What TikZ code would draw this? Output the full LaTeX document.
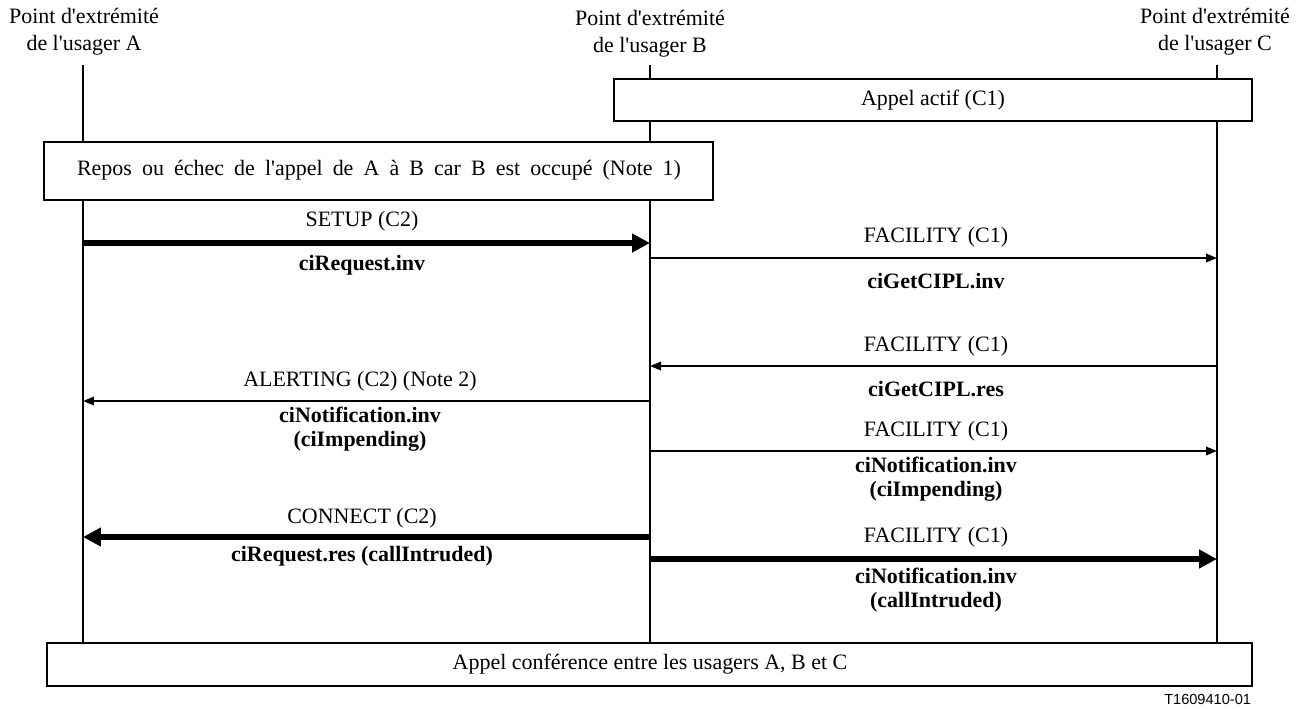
\documentclass[tikz,border=0pt]{standalone}
\usepackage{fontspec}
\setmainfont{Liberation Serif}[Ligatures=TeXOff]
\newfontfamily\tagfont{Liberation Sans}
\usetikzlibrary{arrows.meta}

\begin{document}
\begin{tikzpicture}[x=0.02cm,y=-0.02cm,
  every node/.style={inner sep=0pt, outer sep=0pt},
  txt/.style={font=\fontsize{12.5}{14}\selectfont, align=center},
  hdr/.style={font=\fontsize{12.5}{15.3}\selectfont, align=center},
  lbl/.style={font=\fontsize{12.5}{13.3}\selectfont\bfseries, align=center},
  lifeline/.style={line width=1.15pt},
  framebox/.style={draw, line width=0.85pt, fill=white},
  thinmsg/.style={line width=1.1pt, -{Triangle[length=2.2mm,width=1.7mm]}},
  thickmsg/.style={line width=3.6pt, -{Triangle[length=3.6mm,width=3.6mm]}}
]
\useasboundingbox (0,0) rectangle (1305,708);

% endpoint headers
\node[hdr] (hA) at (84,32) {Point d'extrémité\\de l'usager A};
\node[hdr] (hB) at (650,34) {Point d'extrémité\\de l'usager B};
\node[hdr] (hC) at (1215,32) {Point d'extrémité\\de l'usager C};

% lifelines
\coordinate (A0) at (83,65);  \coordinate (A9) at (83,643);
\coordinate (B0) at (650,65); \coordinate (B9) at (650,643);
\coordinate (C0) at (1217,65); \coordinate (C9) at (1217,643);
\draw[lifeline] (A0) -- (A9);
\draw[lifeline] (B0) -- (B9);
\draw[lifeline] (C0) -- (C9);

% state boxes
\draw[framebox] (614,79) rectangle (1252,121);
\node[txt] (actif) at (933,100) {Appel actif (C1)};
\draw[framebox] (44,142) rectangle (713,200);
\node[txt] (repos) at (379,170) {\spaceskip=0.46em\relax Repos ou échec de l'appel de A à B car B est occupé (Note 1)};
\draw[framebox] (47,643) rectangle (1252,686);
\node[txt] (conf) at (650,664) {Appel conférence entre les usagers A, B et C};

% message endpoints on the lifelines
\coordinate (a1) at (83,243);   \coordinate (b1) at (650,243);
\coordinate (b2) at (650,258);  \coordinate (c2) at (1217,258);
\coordinate (c3) at (1217,366); \coordinate (b3) at (650,366);
\coordinate (b4) at (650,401);  \coordinate (a4) at (83,401);
\coordinate (b5) at (650,451);  \coordinate (c5) at (1217,451);
\coordinate (b6) at (650,537);  \coordinate (a6) at (83,537);
\coordinate (b7) at (650,559);  \coordinate (c7) at (1217,559);

% messages
\draw[thickmsg] (a1) -- (b1);
\node[txt] (m1t) at (362,221) {SETUP (C2)};
\node[lbl] (m1b) at (362,265) {ciRequest.inv};

\draw[thinmsg] (b2) -- (c2);
\node[txt] (m2t) at (936,237) {FACILITY (C1)};
\node[lbl] (m2b) at (936,281) {ciGetCIPL.inv};

\draw[thinmsg] (c3) -- (b3);
\node[txt] (m3t) at (936,346) {FACILITY (C1)};
\node[lbl] (m3b) at (936,389) {ciGetCIPL.res};

\draw[thinmsg] (b4) -- (a4);
\node[txt] (m4t) at (360,381) {ALERTING (C2) (Note 2)};
\node[lbl] (m4b) at (360,429) {ciNotification.inv\\(ciImpending)};

\draw[thinmsg] (b5) -- (c5);
\node[txt] (m5t) at (936,431) {FACILITY (C1)};
\node[lbl] (m5b) at (936,479) {ciNotification.inv\\(ciImpending)};

\draw[thickmsg] (b6) -- (a6);
\node[txt] (m6t) at (362,518) {CONNECT (C2)};
\node[lbl] (m6b) at (362,556) {ciRequest.res (callIntruded)};

\draw[thickmsg] (b7) -- (c7);
\node[txt] (m7t) at (936,537) {FACILITY (C1)};
\node[lbl] (m7b) at (936,590) {ciNotification.inv\\(callIntruded)};

% figure tag
\node[font=\tagfont\fontsize{8.3}{10}\selectfont, anchor=east] (tag) at (1251,699) {T1609410-01};
\end{tikzpicture}
\end{document}
